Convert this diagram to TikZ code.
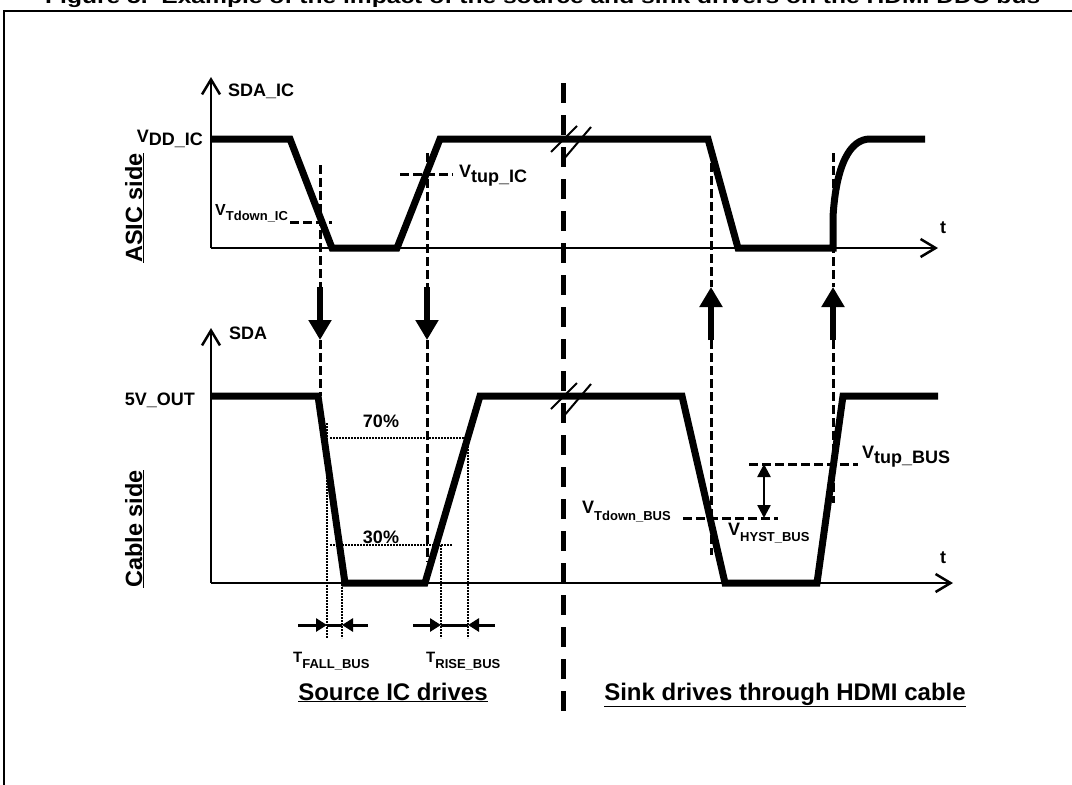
\documentclass[tikz,border=0pt]{standalone}
\usepackage{fontspec}
\setmainfont{Liberation Sans}
\usetikzlibrary{arrows.meta}
\newcommand{\fsA}{\fontsize{18}{20}\selectfont\bfseries}
\newcommand{\fsB}{\fontsize{13}{15}\selectfont\bfseries}
\newcommand{\fsC}{\fontsize{23.5}{26}\selectfont\bfseries}
\newcommand{\fsD}{\fontsize{24}{26}\selectfont\bfseries}
\begin{document}
\begin{tikzpicture}[x=1pt,y=-1pt,
  wave/.style={line width=7pt},
  axis/.style={line width=2.5pt,-{Straight Barb[length=15pt,width=18pt]}},
  dsh/.style={line width=3pt,dash pattern=on 8.5pt off 4.5pt},
  dtt/.style={line width=2.5pt,dash pattern=on 2pt off 1pt},
  cdash/.style={line width=5pt,dash pattern=on 20pt off 12pt},
  bigarrow/.style={line width=6pt,-{Triangle[length=20pt,width=22pt]}},
  tarrow/.style={line width=3pt,-{Triangle[length=11pt,width=13pt]}},
  hyst/.style={line width=2.5pt,{Triangle[length=13pt,width=13pt]}-{Triangle[length=13pt,width=13pt]}},
  lbl/.style={font=\fsA,inner sep=0pt},
  brk/.style={line width=2pt}]
\useasboundingbox (0,0) rectangle (1072,785);
% title (cut by the top edge)
\begin{scope}
\clip (0,-30) rectangle (1072,7);
\node[inner sep=0pt,anchor=base west] (title) at (45,3.5) {\resizebox{995pt}{14pt}{\bfseries Figure 5.\ \ Example of the impact of the source and sink drivers on the HDMI DDC bus}};
\end{scope}
% frame
\draw[line width=2pt] (4,800) -- (4,11) -- (1080,11);

% centre separator
\draw[cdash] (563,83) -- (563,723);

% ---------- top panel ----------
\draw[axis] (211,248) -- (211,77);
\draw[axis] (211,248) -- (938,248);
\node[lbl,anchor=base west] (sdaic) at (228,96) {SDA\_IC};
\node[lbl,anchor=base east] (vdd) at (203,142) {V\raisebox{-3pt}{DD\_IC}};
\node[lbl,anchor=base west] (t1) at (940,233) {t};
\node[font=\fsC,inner sep=0pt,rotate=90,anchor=base] (asic) at (142,208) {\underline{ASIC side}};

\draw[wave] (211,139) -- (290,139) -- (332,248) -- (397,248) -- (440,139) -- (708,139)
  -- (738,248) -- (833,248) -- (833,217) .. controls (836,165) and (850,139) .. (870,139) -- (925,139);

% thresholds top
\draw[dsh] (290,222) -- (332,222);
\node[inner sep=0pt,anchor=base west] (vtdic) at (215,215) {\fontsize{16}{18}\selectfont\bfseries V\raisebox{-5pt}{\fsB Tdown\_IC}};
\draw[dsh] (400,174) -- (453,174);
\node[lbl,anchor=base west] (vtupic) at (459,177) {V\raisebox{-5pt}{tup\_IC}};

% verticals and transfer arrows
\draw[dsh] (320,165) -- (320,287);
\draw[bigarrow] (320,287) -- (320,340);
\draw[dsh] (320,340) -- (320,396);
\draw[dsh] (427,153) -- (427,287);
\draw[bigarrow] (427,287) -- (427,340);
\draw[dsh] (427,340) -- (427,562);
\draw[dsh] (711,163) -- (711,287);
\draw[bigarrow] (711,340) -- (711,287);
\draw[dsh] (711,340) -- (711,555);
\draw[dsh] (833,153) -- (833,287);
\draw[bigarrow] (833,340) -- (833,287);
\draw[dsh] (833,340) -- (833,503);

% break symbols
\draw[brk] (551,152) -- (577,126);
\draw[brk] (563,160) -- (591,127);
\draw[brk] (551,409) -- (577,383);
\draw[brk] (563,417) -- (591,384);

% ---------- bottom panel ----------
\draw[axis] (211,583) -- (211,328);
\draw[axis] (211,583) -- (953,583);
\node[lbl,anchor=base west] (sda) at (229,339) {SDA};
\node[lbl,anchor=base east] (v5) at (195,405) {5V\_OUT};
\node[lbl,anchor=base west] (t2) at (940,563) {t};
\node[font=\fsC,inner sep=0pt,rotate=90,anchor=base] (cable) at (142,529) {\underline{Cable side}};

\draw[wave] (211,396) -- (318,396) -- (345,583) -- (425,583) -- (480,396) -- (682,396)
  -- (725,583) -- (817,583) -- (843,396) -- (938,396);

% 70 / 30 %
\draw[dtt] (330,438) -- (465,438);
\draw[dtt] (330,545) -- (452,545);
\node[lbl,anchor=base] (p70) at (381,427) {70\%};
\node[lbl,anchor=base] (p30) at (381,543) {30\%};
\draw[dtt] (327,423) -- (327,638);
\draw[dtt] (342,545) -- (342,638);
\draw[dtt] (441,545) -- (441,638);
\draw[dtt] (468,443) -- (468,638);

% timing arrows
\draw[tarrow] (298,625) -- (327,625);
\draw[line width=3pt] (327,625) -- (342,625);
\draw[tarrow] (368,625) -- (342,625);
\draw[tarrow] (413,625) -- (441,625);
\draw[line width=3pt] (441,625) -- (468,625);
\draw[tarrow] (495,625) -- (468,625);
\node[inner sep=0pt,anchor=base west] (tfall) at (293,662) {\fontsize{15}{17}\selectfont\bfseries T\raisebox{-6pt}{\fsB FALL\_BUS}};
\node[inner sep=0pt,anchor=base west] (trise) at (426,662) {\fontsize{15}{17}\selectfont\bfseries T\raisebox{-6pt}{\fsB RISE\_BUS}};

% bus thresholds
\draw[dsh] (749,464) -- (858,464);
\draw[dsh] (683,518) -- (778,518);
\draw[hyst] (764,464) -- (764,518);
\node[lbl,anchor=base west] (vtupbus) at (862,458) {V\raisebox{-5pt}{tup\_BUS}};
\node[lbl,anchor=base west] (vtdbus) at (582,513) {V\raisebox{-7pt}{\fsB Tdown\_BUS}};
\node[lbl,anchor=base west] (vhyst) at (728,535) {V\raisebox{-6pt}{\fsB HYST\_BUS}};

% captions
\node[font=\fsD,inner sep=0pt,anchor=base] (src) at (393,700) {\underline{Source IC drives}};
\node[font=\fsD,inner sep=0pt,anchor=base] (snk) at (785,700) {\underline{Sink drives through HDMI cable}};
\end{tikzpicture}
\end{document}
